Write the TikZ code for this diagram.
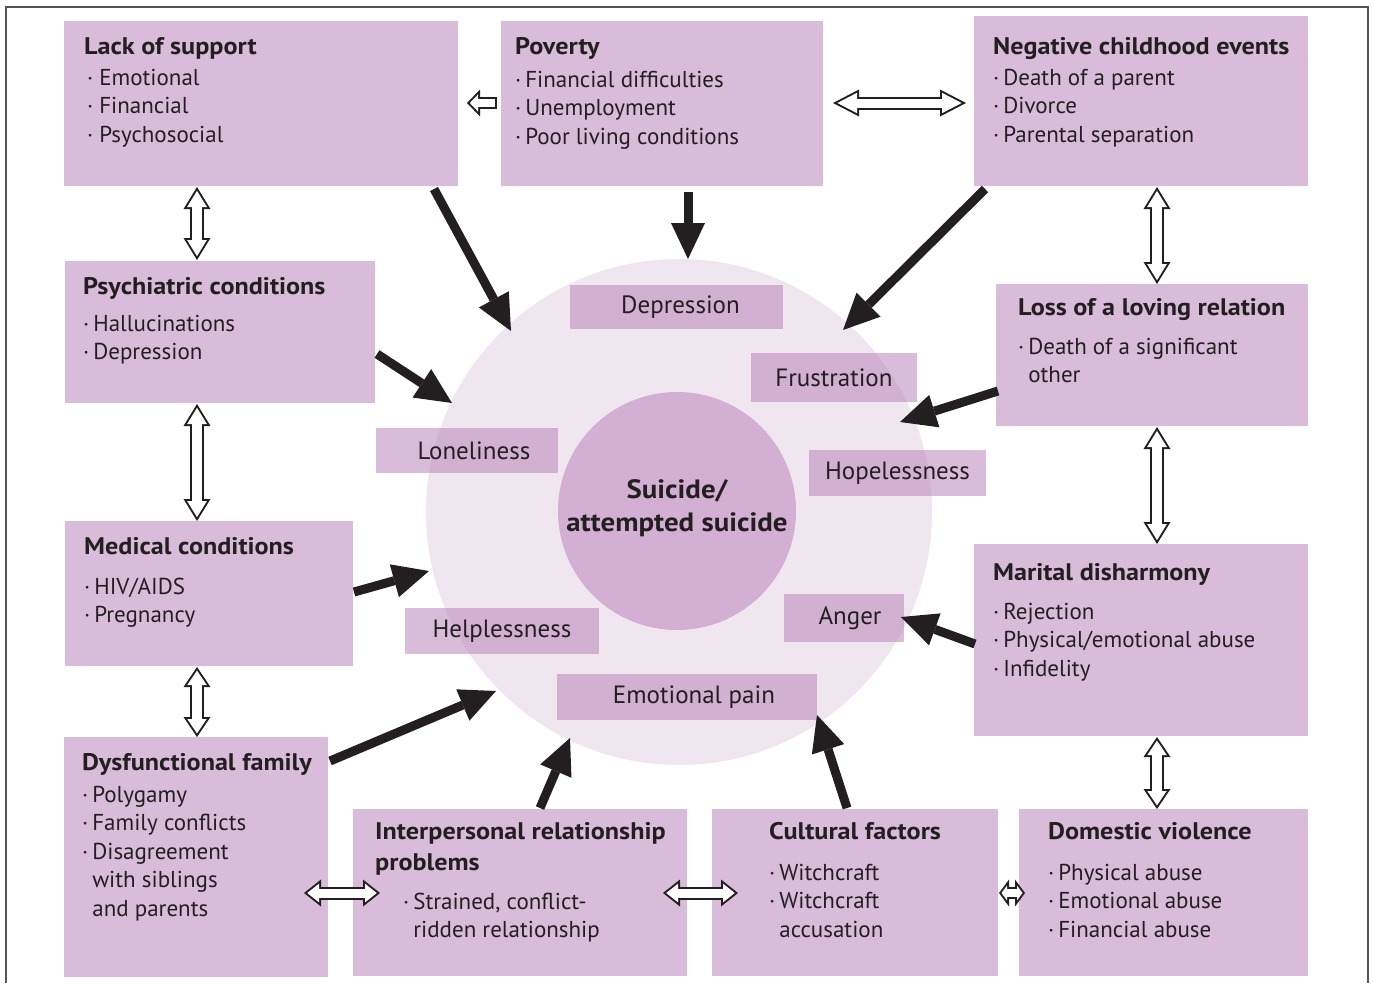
\documentclass[tikz,border=0pt]{standalone}
\usepackage{fontspec}
\setmainfont{PT Sans}[BoldFeatures={FakeStretch=1.09}]
\usetikzlibrary{arrows.meta,calc}
\definecolor{boxc}{HTML}{D9BCD9}
\definecolor{bigc}{HTML}{EFE6F0}
\definecolor{innc}{HTML}{D2AFD3}
\definecolor{labc}{HTML}{BA85BA}
\definecolor{ink}{HTML}{231F20}
\definecolor{framec}{HTML}{555555}
\newcommand\ttl[1]{\hbox{\fontsize{24}{28.6}\selectfont\bfseries #1}}
\newcommand\itm[1]{\hbox{·\kern4pt #1}}
\newcommand\cnt[1]{\hbox{\phantom{·\kern4pt}#1}}
\newcommand\blkv[1]{\vtop{\baselineskip=28.6pt\lineskiplimit=-50pt\lineskip=0pt #1}}
\newcommand\harrowD[4][13]{%
 \pgfmathsetmacro\hArD{2/sin(atan(13.5/#2))}%
 \pgfmathsetmacro\hArL{#2-2-\hArD}%
 \pgfmathsetmacro\hArW{2*\hArL*13.5/#2}%
 \pgfmathsetmacro\hArS{#1-4}%
 \draw[line width=#1pt,ink,{Triangle[length=#2pt,width=27pt,line width=0pt]}-{Triangle[length=#2pt,width=27pt,line width=0pt]}] #3 -- #4;
 \draw[line width=\hArS pt,white,shorten <=\hArD pt,shorten >=\hArD pt,{Triangle[length=\hArL pt,width=\hArW pt,line width=0pt]}-{Triangle[length=\hArL pt,width=\hArW pt,line width=0pt]}] #3 -- #4;
}
\newcommand\harrowS[4][12]{%
 \pgfmathsetmacro\hArD{2/sin(atan(13.5/#2))}%
 \pgfmathsetmacro\hArL{#2-2-\hArD}%
 \pgfmathsetmacro\hArW{2*\hArL*13.5/#2}%
 \pgfmathsetmacro\hArS{#1-4}%
 \draw[line width=#1pt,ink,-{Triangle[length=#2pt,width=27pt,line width=0pt]}] #3 -- #4;
 \draw[line width=\hArS pt,white,shorten <=2pt,shorten >=\hArD pt,-{Triangle[length=\hArL pt,width=\hArW pt,line width=0pt]}] #3 -- #4;
}
\tikzset{
 box/.style={fill=boxc, draw=none, inner sep=0, anchor=north west},
 lab/.style={fill=labc, fill opacity=0.55, text opacity=1, inner sep=0, text=ink, font=\fontsize{25}{28}\selectfont},
 txt/.style={inner sep=0, anchor=base west, text=ink, font=\fontsize{23}{28.6}\selectfont},
 blk/.style={line width=9pt, draw=ink, -{Triangle[length=36pt,width=34pt,line width=0pt]}},
}
\begin{document}
\begin{tikzpicture}[x=1pt,y=-1pt]
\useasboundingbox (0,0) rectangle (1373,983);
\draw[framec,line width=1.5pt] (6,983) -- (6,7) -- (1368,7) -- (1368,983);
% circles
\node[circle, fill=bigc, minimum size=506pt, inner sep=0] (ring) at (679,512) {};
\node[circle, fill=innc, minimum size=238pt, inner sep=0] (core) at (677,511) {};
\node[inner sep=0, align=center, text=ink, font=\fontsize{26.5}{33}\selectfont\bfseries] (coreT) at (677,508) {Suicide/\\attempted suicide};
% feelings
\node[lab, minimum width=213pt, minimum height=44pt] (fdep) at (676.5,307) {\kern8pt Depression};
\node[lab, minimum width=166pt, minimum height=49pt] (ffru) at (834,377.5) {Frustration};
\node[lab, minimum width=182pt, minimum height=45pt] (flon) at (467,450.5) {\kern14pt Loneliness};
\node[lab, minimum width=177pt, minimum height=46pt] (fhop) at (897.5,473) {Hopelessness};
\node[lab, minimum width=194pt, minimum height=46pt] (fhel) at (502,631) {Helplessness};
\node[lab, minimum width=120pt, minimum height=48pt] (fang) at (844,618) {\kern12pt Anger};
\node[lab, minimum width=260pt, minimum height=46pt] (femo) at (687,697) {\kern14pt Emotional pain};
% boxes
\node[box, minimum width=394pt, minimum height=165pt] (lack) at (64,21) {};
\node[box, minimum width=322pt, minimum height=165pt] (pov) at (501,21) {};
\node[box, minimum width=334pt, minimum height=170pt] (neg) at (974,16) {};
\node[box, minimum width=310pt, minimum height=142pt] (psy) at (65,261) {};
\node[box, minimum width=312pt, minimum height=142pt] (loss) at (996,284) {};
\node[box, minimum width=288pt, minimum height=145pt] (med) at (65,521) {};
\node[box, minimum width=334pt, minimum height=192pt] (mar) at (974,544) {};
\node[box, minimum width=264pt, minimum height=240pt] (dys) at (64,737) {};
\node[box, minimum width=334pt, minimum height=167pt] (inter) at (353,809) {};
\node[box, minimum width=286pt, minimum height=167pt] (cult) at (712,809) {};
\node[box, minimum width=289pt, minimum height=167pt] (dom) at (1019,809) {};
% texts
\node[txt] (lackT) at (84,54) {\blkv{\ttl{Lack of support}\vskip2.4pt
 \hbox{\kern3pt·\kern6pt Emotional}\hbox{\kern3pt·\kern6pt Financial}\hbox{\kern3pt·\kern6pt Psychosocial}}};
\node[txt] (povT) at (515,54) {\blkv{\ttl{Poverty}\vskip4.4pt
 \itm{Financial difficulties}\itm{Unemployment}\itm{Poor living conditions}}};
\node[txt] (negT) at (993,54) {\blkv{\ttl{Negative childhood events}\vskip2.4pt
 \itm{Death of a parent}\itm{Divorce}\itm{Parental separation}}};
\node[txt] (psyT) at (83,294) {\blkv{\ttl{Psychiatric conditions}\vskip8.4pt
 \itm{Hallucinations}\itm{Depression}}};
\node[txt] (lossT) at (1018,315) {\blkv{\ttl{Loss of a loving relation}\vskip10.4pt
 \itm{Death of a significant}\cnt{other}}};
\node[txt] (medT) at (84,554) {\blkv{\ttl{Medical conditions}\vskip11.4pt
 \itm{HIV/AIDS}\itm{Pregnancy}}};
\node[txt] (marT) at (993,580) {\blkv{\ttl{Marital disharmony}\vskip10.4pt
 \itm{Rejection}\itm{Physical/emotional abuse}\itm{Infidelity}}};
\node[txt] (dysT) at (82,770) {\blkv{\ttl{Dysfunctional family}\vskip3.4pt
 \itm{Polygamy}\itm{Family conflicts}\itm{Disagreement}\cnt{with siblings}\cnt{and parents}}};
\node[txt] (interT) at (375,839) {\blkv{\ttl{Interpersonal relationship}\vskip2.4pt\ttl{problems}\vskip10.4pt
 \hbox{\kern28pt\itm{Strained, conflict-}}\hbox{\kern28pt\cnt{ridden relationship}}}};
\node[txt] (cultT) at (769,839) {\blkv{\ttl{Cultural factors}\vskip12.4pt
 \itm{Witchcraft}\itm{Witchcraft}\cnt{accusation}}};
\node[txt] (domT) at (1048,839) {\blkv{\ttl{Domestic violence}\vskip12.4pt
 \itm{Physical abuse}\itm{Emotional abuse}\itm{Financial abuse}}};
% black arrows
\coordinate (a1s) at (434,189); \coordinate (a1e) at (511,331);
\coordinate (a2s) at (688,192); \coordinate (a2e) at (688,259);
\coordinate (a3s) at (985,189); \coordinate (a3e) at (843,330);
\coordinate (a4s) at (377,354); \coordinate (a4e) at (452,403);
\coordinate (a5s) at (998,391); \coordinate (a5e) at (900,422);
\coordinate (a6s) at (354,592); \coordinate (a6e) at (429,571);
\coordinate (a7s) at (975,644); \coordinate (a7e) at (901,617);
\coordinate (a8s) at (330,761); \coordinate (a8e) at (496,691);
\coordinate (a9s) at (540,808); \coordinate (a9e) at (570,738);
\coordinate (a10s) at (847,808); \coordinate (a10e) at (817,715);
\foreach \i in {1,...,10} {\draw[blk] (a\i s) -- (a\i e);}
% hollow arrows
\coordinate (h1a) at (197,187); \coordinate (h1b) at (197,260);
\coordinate (h2a) at (197,404); \coordinate (h2b) at (197,521);
\coordinate (h3a) at (197,667); \coordinate (h3b) at (197,737);
\coordinate (h4a) at (1157,187); \coordinate (h4b) at (1157,284);
\coordinate (h5a) at (1157,427); \coordinate (h5b) at (1157,544);
\coordinate (h6a) at (1157,737); \coordinate (h6b) at (1157,809);
\coordinate (h7a) at (304,893); \coordinate (h7b) at (380,893);
\coordinate (h8a) at (663,893); \coordinate (h8b) at (738,893);
\coordinate (h9a) at (999,893); \coordinate (h9b) at (1025,893);
\coordinate (h10a) at (833,103); \coordinate (h10b) at (966,103);
\coordinate (h11a) at (497,103); \coordinate (h11b) at (467,103);
\harrowD[14]{22}{(h1a)}{(h1b)}
\harrowD[14]{22}{(h2a)}{(h2b)}
\harrowD[14]{20}{(h3a)}{(h3b)}
\harrowD[14]{22}{(h4a)}{(h4b)}
\harrowD[14]{22}{(h5a)}{(h5b)}
\harrowD[14]{20}{(h6a)}{(h6b)}
\harrowD[13]{17}{(h7a)}{(h7b)}
\harrowD[13]{17}{(h8a)}{(h8b)}
\harrowD[12]{10}{(h9a)}{(h9b)}
\harrowD[13]{26}{(h10a)}{(h10b)}
\harrowS[12]{13}{(h11a)}{(h11b)}
\end{tikzpicture}
\end{document}
